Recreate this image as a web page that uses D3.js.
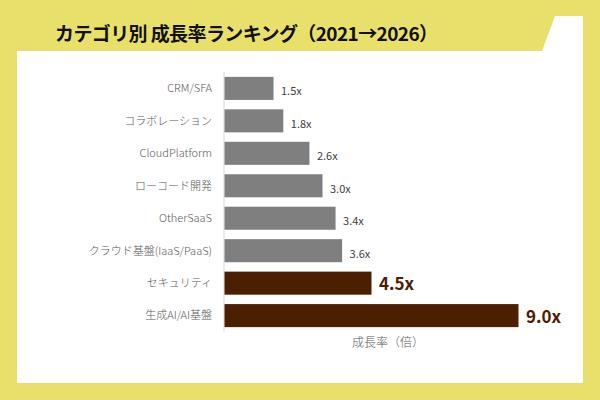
<!DOCTYPE html>
<html>
<head>
<meta charset="utf-8">
<script src="https://cdn.jsdelivr.net/npm/d3@7"></script>
<style>
  body { margin: 0; background: #e8e06b; }
  svg { display: block; }
</style>
</head>
<body>
<div id="chart"></div>
<script>
// données du graphique
const categories = ["CRM/SFA", "コラボレーション", "CloudPlatform", "ローコード開発",
  "OtherSaaS", "クラウド基盤(IaaS/PaaS)", "セキュリティ", "生成AI/AI基盤"];
const growth = [1.5, 1.8, 2.6, 3.0, 3.4, 3.6, 4.5, 9.0];
const highlighted = ["セキュリティ", "生成AI/AI基盤"];
const valueLabels = ["1.5x", "1.8x", "2.6x", "3.0x", "3.4x", "3.6x", "4.5x", "9.0x"];

const W = 600, H = 400;
const jp = "'Noto Sans CJK JP', 'Noto Sans', sans-serif";

const svg = d3.select("#chart").append("svg")
  .attr("width", W).attr("height", H);

// fond jaune + panneau blanc avec onglet
svg.append("rect").attr("width", W).attr("height", H).attr("fill", "#e8e06b");
svg.append("path")
  .attr("d", "M17,51 L542,51 L555,16 L583,16 L583,383 L17,383 Z")
  .attr("fill", "#ffffff");

svg.append("text")
  .attr("x", 55).attr("y", 41)
  .attr("font-family", jp)
  .attr("font-weight", "bold")
  .attr("font-size", 19)
  .attr("letter-spacing", -0.6)
  .attr("fill", "#111")
  .text("カテゴリ別 成長率ランキング（2021→2026）");

const x0 = 224;
const x = d3.scaleLinear().domain([0, 9]).range([x0, 518]);
const y = d3.scaleBand().domain(categories).range([72, 332]).paddingInner(0.29).paddingOuter(0.15);

// axe vertical
svg.append("line")
  .attr("x1", x0).attr("x2", x0)
  .attr("y1", 72).attr("y2", 332)
  .attr("stroke", "#d9d9d9");

const rows = categories.map((c, i) => ({cat: c, v: growth[i], label: valueLabels[i], hi: highlighted.includes(c)}));

svg.selectAll("rect.bar").data(rows).enter().append("rect")
  .attr("class", "bar")
  .attr("x", x0 + 0.5)
  .attr("y", d => y(d.cat))
  .attr("width", d => x(d.v) - x0)
  .attr("height", y.bandwidth())
  .attr("fill", d => d.hi ? "#4a2000" : "#7f7f7f");

// labels catégories
svg.selectAll("text.cat").data(rows).enter().append("text")
  .attr("class", "cat")
  .attr("x", 212)
  .attr("y", d => y(d.cat) + y.bandwidth() / 2)
  .attr("dy", "0.35em")
  .attr("text-anchor", "end")
  .attr("font-family", jp)
  .attr("font-size", 11)
  .attr("font-weight", 300)
  .attr("fill", "#595959")
  .text(d => d.cat);

// valeurs
svg.selectAll("text.val").data(rows).enter().append("text")
  .attr("class", "val")
  .attr("x", d => x(d.v) + 8)
  .attr("y", d => y(d.cat) + y.bandwidth() / 2 + (d.hi ? 1 : 3))
  .attr("dy", "0.35em")
  .attr("font-family", jp)
  .attr("font-size", d => d.hi ? 17 : 11)
  .attr("font-weight", d => d.hi ? "bold" : "normal")
  .attr("fill", d => d.hi ? "#4a2000" : "#404040")
  .text(d => d.label);

svg.append("text")
  .attr("x", 388).attr("y", 347)
  .attr("text-anchor", "middle")
  .attr("font-family", jp)
  .attr("font-size", 12)
  .attr("font-weight", 300)
  .attr("fill", "#595959")
  .text("成長率（倍）");
</script>
</body>
</html>
